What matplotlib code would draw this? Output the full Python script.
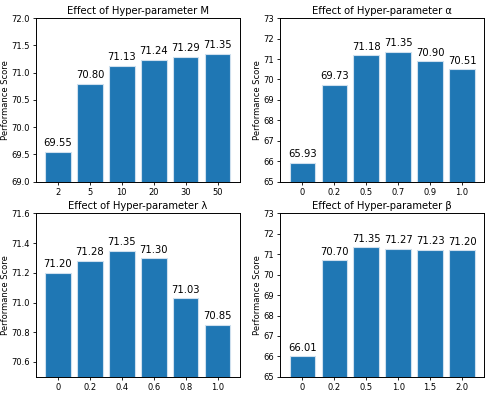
import matplotlib.pyplot as plt

# hyper-parameter sweeps
m_labels = ['2', '5', '10', '20', '30', '50']
m_scores = [69.55, 70.80, 71.13, 71.24, 71.29, 71.35]

alpha_labels = ['0', '0.2', '0.5', '0.7', '0.9', '1.0']
alpha_scores = [65.93, 69.73, 71.18, 71.35, 70.90, 70.51]

lambda_labels = ['0', '0.2', '0.4', '0.6', '0.8', '1.0']
lambda_scores = [71.20, 71.28, 71.35, 71.30, 71.03, 70.85]

beta_labels = ['0', '0.2', '0.5', '1.0', '1.5', '2.0']
beta_scores = [66.01, 70.70, 71.35, 71.27, 71.23, 71.20]

panels = [
    ('M', m_labels, m_scores, (69.0, 72.0), [69.0, 69.5, 70.0, 70.5, 71.0, 71.5, 72.0], '%.1f'),
    ('α', alpha_labels, alpha_scores, (65, 73), list(range(65, 74)), '%d'),
    ('λ', lambda_labels, lambda_scores, (70.5, 71.6), [70.6, 70.8, 71.0, 71.2, 71.4, 71.6], '%.1f'),
    ('β', beta_labels, beta_scores, (65, 73), list(range(65, 74)), '%d'),
]

fig, axes = plt.subplots(2, 2, figsize=(4.86, 3.95), dpi=100)
fig.subplots_adjust(left=0.074, right=0.996, top=0.954, bottom=0.046, wspace=0.2, hspace=0.195)

for ax, (name, labels, scores, ylim, yticks, fmt) in zip(axes.flat, panels):
    bars = ax.bar(range(len(scores)), scores, width=0.8, color='#1f77b4',
                  edgecolor='#cfe0ee', linewidth=0.8)
    ax.bar_label(bars, fmt='%.2f', padding=2.5, fontsize=7.2)
    ax.set_ylim(*ylim)
    ax.set_yticks(yticks)
    ax.yaxis.set_major_formatter(plt.FormatStrFormatter(fmt))
    ax.set_xticks(range(len(labels)))
    ax.set_xticklabels(labels)
    ax.tick_params(labelsize=6, length=2.5, width=0.6, pad=2)
    ax.set_title('Effect of Hyper-parameter ' + name, fontsize=7.2, pad=3)
    ax.set_ylabel('Performance Score', fontsize=6, labelpad=1)
    for s in ax.spines.values():
        s.set_linewidth(0.7)

plt.savefig('out.png')
